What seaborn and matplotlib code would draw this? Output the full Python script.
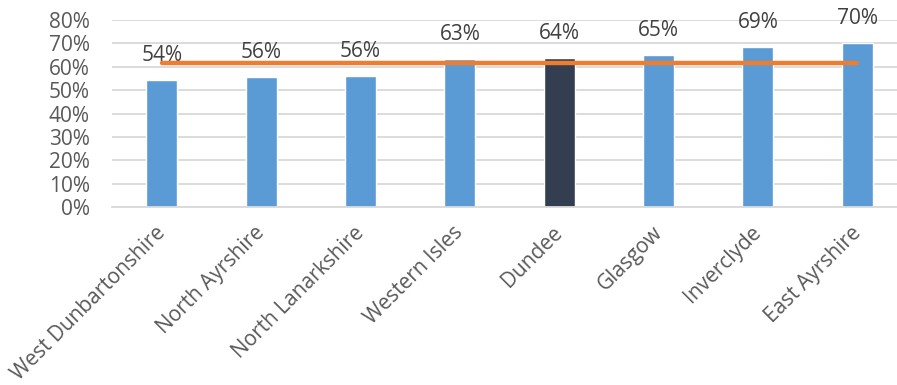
import matplotlib
matplotlib.use("Agg")
import matplotlib.pyplot as plt
import seaborn as sns
import numpy as np
import pandas as pd

categories = ["West Dunbartonshire", "North Ayrshire", "North Lanarkshire", "Western Isles",
              "Dundee", "Glasgow", "Inverclyde", "East Ayrshire"]
values = [54.2, 55.8, 55.9, 63.2, 63.6, 65.0, 68.5, 70.3]
labels = ["54%", "56%", "56%", "63%", "64%", "65%", "69%", "70%"]
average = 61.4
highlight = "Dundee"
yticks = [0, 10, 20, 30, 40, 50, 60, 70, 80]

sns.set_theme(style="white")
plt.rcParams['font.family'] = ['Open Sans', 'DejaVu Sans']

df = pd.DataFrame({"area": categories, "value": values})
palette = {c: ("#333F50" if c == highlight else "#5B9BD5") for c in categories}

fig = plt.figure(figsize=(8.97, 3.85), dpi=100)
ax = fig.add_axes([0.125, 0.4623, 0.886, 0.4857])

sns.barplot(data=df, x="area", y="value", hue="area", palette=palette, width=0.31,
            legend=False, ax=ax, saturation=1)
ax.plot(np.arange(len(categories)), [average] * len(categories), color="#ED7D31",
        lw=3.2, solid_capstyle="round", zorder=5)

for i, (v, lab) in enumerate(zip(values, labels)):
    ax.text(i, v + 6.0, lab, ha="center", va="bottom", fontsize=15, color="#404040")

ax.set_ylim(0, 80)
ax.set_xlim(-0.5, len(categories) - 0.5)
ax.set_yticks(yticks)
ax.set_yticklabels([f"{t}%" for t in yticks], fontsize=15, color="#595959")
ax.yaxis.grid(True, color="#D9D9D9", lw=1.3)
ax.set_axisbelow(True)
ax.tick_params(axis="y", length=0, pad=16)
ax.tick_params(axis="x", length=0, pad=11)
ax.set_xticks(np.arange(len(categories)))
ax.set_xticklabels(categories, rotation=45, ha="right", rotation_mode="anchor",
                   fontsize=15, color="#595959")
for lbl in ax.get_xticklabels():
    lbl.set_transform(lbl.get_transform() + matplotlib.transforms.ScaledTranslation(-5/72, 0, fig.dpi_scale_trans))
for s in ["top", "right", "left"]:
    ax.spines[s].set_visible(False)
ax.spines["bottom"].set_color("#D9D9D9")
ax.spines["bottom"].set_linewidth(1.3)
ax.set_xlabel("")
ax.set_ylabel("")

fig.savefig("out.png", dpi=100)
